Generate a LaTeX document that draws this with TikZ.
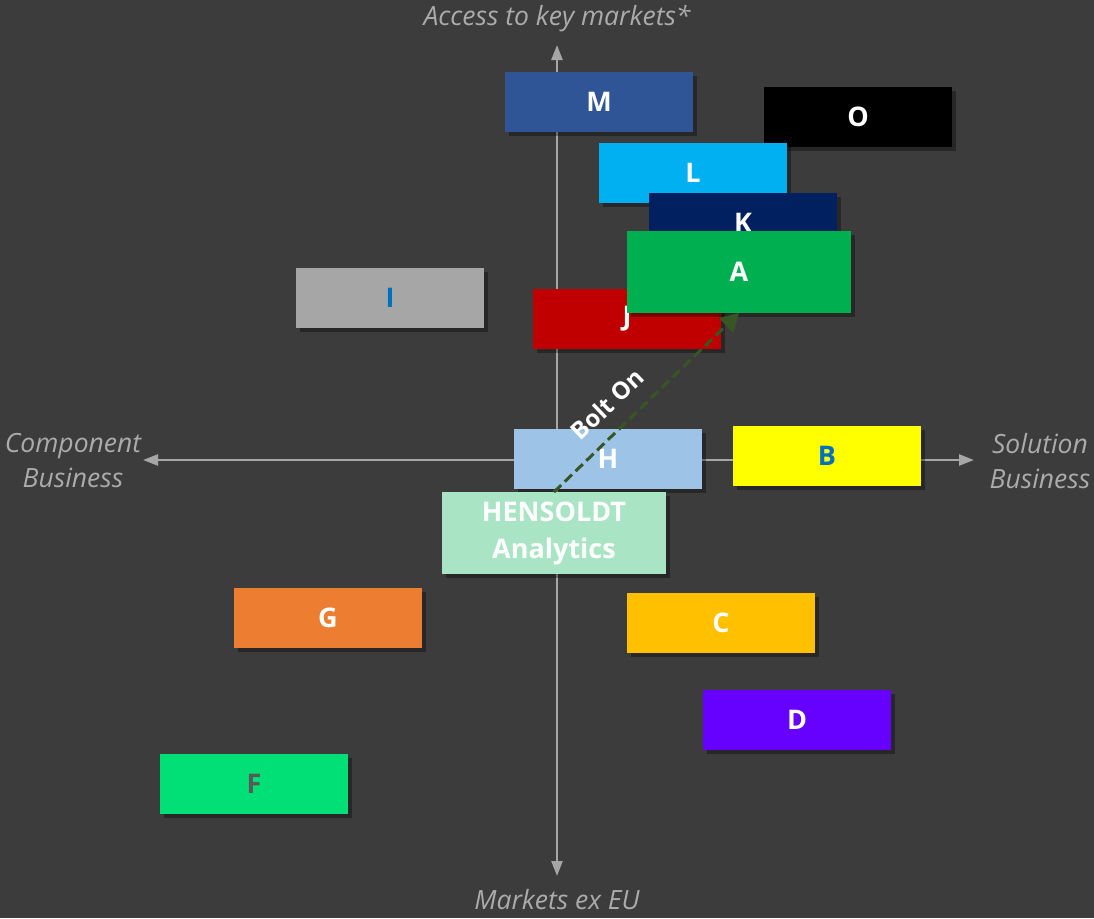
\documentclass[tikz,border=0pt]{standalone}
\usepackage{fontspec}
\setmainfont{Open Sans}
\usetikzlibrary{arrows.meta,shadows}
\definecolor{bg}{HTML}{3C3C3C}
\definecolor{axisgray}{HTML}{A6A6A6}
\definecolor{labgray}{HTML}{ABABAB}
\definecolor{cM}{HTML}{2F5597}
\definecolor{cL}{HTML}{00B0F0}
\definecolor{cK}{HTML}{002060}
\definecolor{cA}{HTML}{00B050}
\definecolor{cI}{HTML}{A6A6A6}
\definecolor{cJ}{HTML}{C00000}
\definecolor{cH}{HTML}{9DC3E6}
\definecolor{cB}{HTML}{FFFF00}
\definecolor{cHA}{HTML}{A9E5C5}
\definecolor{cG}{HTML}{ED7D31}
\definecolor{cC}{HTML}{FFC000}
\definecolor{cD}{HTML}{6600FF}
\definecolor{cF}{HTML}{00E076}
\definecolor{txtblue}{HTML}{0070C0}
\definecolor{txtgray}{HTML}{595959}
\definecolor{boltgreen}{HTML}{375623}
\tikzset{
  compbox/.style={rectangle, inner sep=0pt, outer sep=0pt,
    minimum width=188pt, minimum height=60pt, text=white,
    font=\fontsize{27}{30}\selectfont\bfseries,
    drop shadow={shadow xshift=4pt, shadow yshift=-4pt, opacity=0.35, fill=black}},
  bigbox/.style={compbox, minimum width=224pt, minimum height=82pt},
  axisline/.style={draw=axisgray, line width=2.5pt, -{Triangle[length=15pt,width=11pt]}},
  axislabel/.style={text=labgray, font=\fontsize{26.5}{35}\selectfont\itshape, align=center, inner sep=0pt},
  boltarrow/.style={draw=boltgreen, line width=3pt, dash pattern=on 10pt off 5pt,
    -{Triangle[length=18pt,width=20pt]}},
  boltlabel/.style={text=white, font=\fontsize{24}{28}\selectfont\bfseries, inner sep=0pt, rotate=43.6},
}
\begin{document}
\begin{tikzpicture}[x=1pt,y=-1pt]
\fill[bg] (0,0) rectangle (1094,918);
\useasboundingbox (0,0) rectangle (1094,918);
% axes
\coordinate (origin) at (557,460);
\coordinate (topend) at (557,45);
\coordinate (botend) at (557,876);
\coordinate (leftend) at (143,460);
\coordinate (rightend) at (974,460);
\draw[axisline] (origin) -- (topend);
\draw[axisline] (origin) -- (botend);
\draw[axisline] (origin) -- (leftend);
\draw[axisline] (origin) -- (rightend);
% axis labels
\node[axislabel] (ltop) at (557,19) {Access to key markets*};
\node[axislabel] (lbot) at (557,900) {Markets ex EU};
\node[axislabel] (lleft) at (73,461) {Component\\Business};
\node[axislabel] (lright) at (1040,461) {Solution\\Business};
% boxes
\node[compbox, fill=black] (O) at (858,117) {O};
\node[compbox, fill=cM] (M) at (599,102) {M};
\node[compbox, fill=cL] (L) at (693,173) {L};
\node[compbox, fill=cK] (K) at (743,223) {K};
\node[compbox, fill=cI, text=txtblue] (I) at (390,298) {I};
\node[compbox, fill=cJ] (J) at (627,319) {J};
\node[bigbox, fill=cA] (A) at (739,272) {A};
\node[compbox, fill=cH] (H) at (608,459) {H};
\node[compbox, fill=cB, text=txtblue] (B) at (827,456) {B};
\node[bigbox, fill=cHA, font=\fontsize{27}{37}\selectfont\bfseries, align=center] (HA) at (554,533) {HENSOLDT\\Analytics};
\node[compbox, fill=cG] (G) at (328,618) {G};
\node[compbox, fill=cC] (C) at (721,623) {C};
\node[compbox, fill=cD] (D) at (797,720) {D};
\node[compbox, fill=cF, text=txtgray] (F) at (254,784) {F};
% bolt-on arrow
\draw[boltarrow] (HA.north) -- (A.south);
\node[boltlabel] (bolt) at (607,404) {Bolt On};
\end{tikzpicture}
\end{document}
